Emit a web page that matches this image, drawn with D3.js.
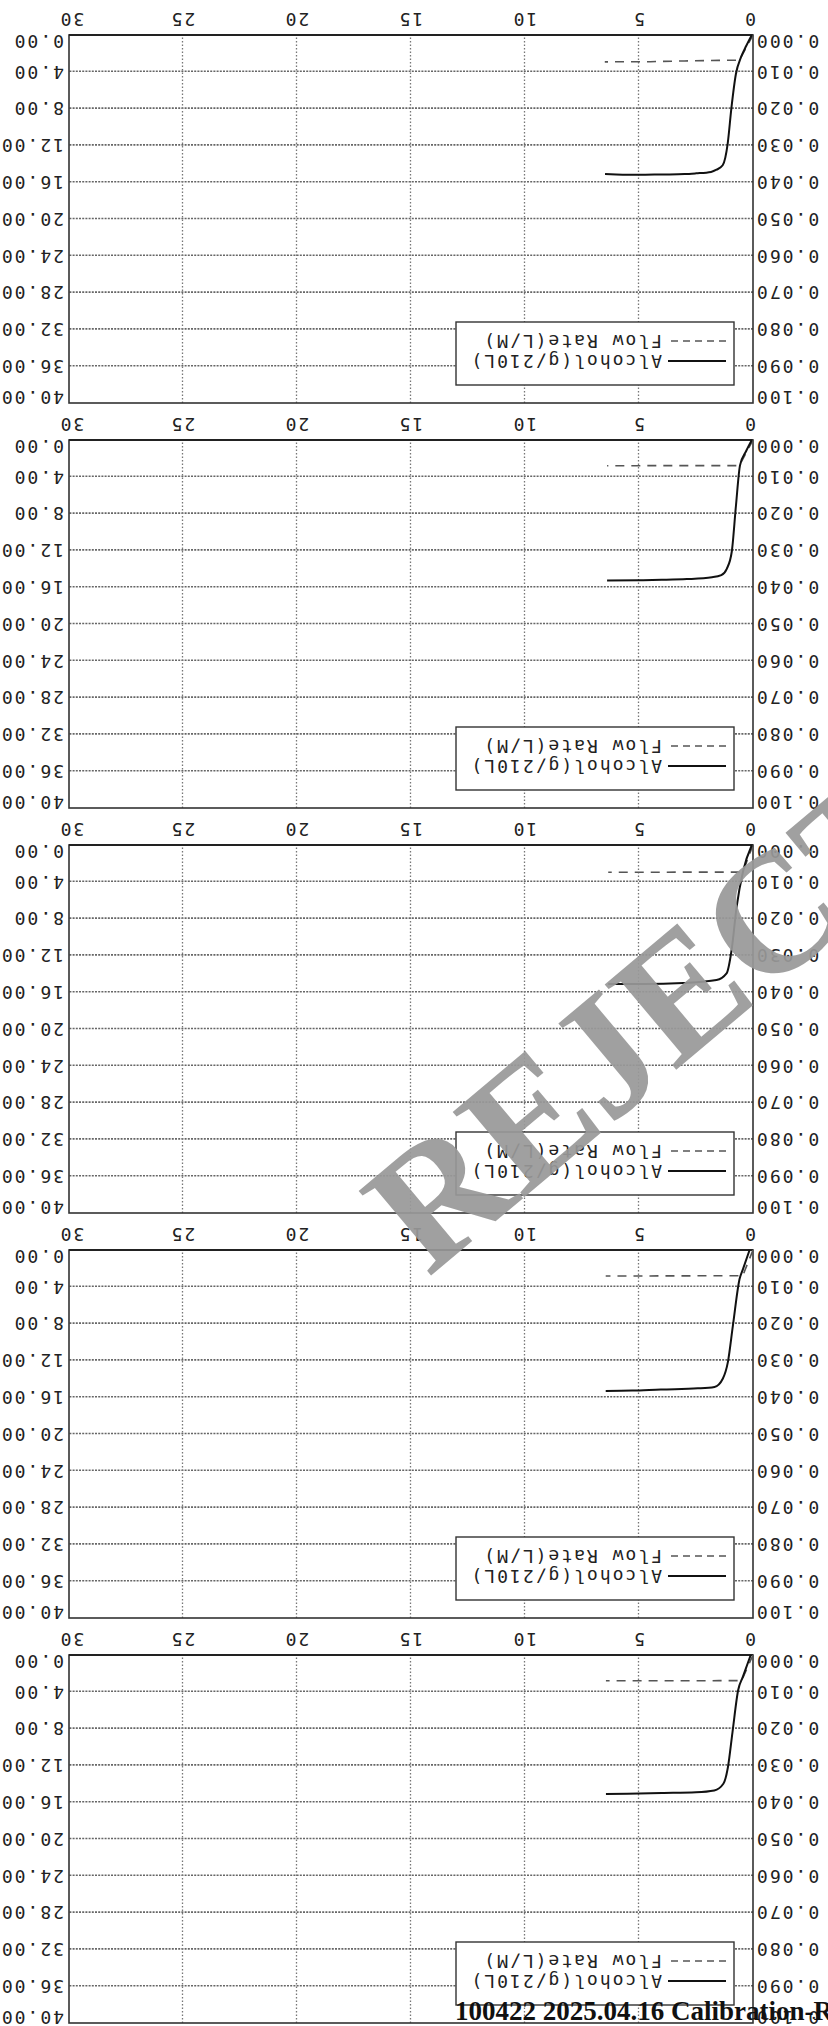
<!DOCTYPE html>
<html>
<head>
<meta charset="utf-8">
<script src="https://cdn.jsdelivr.net/npm/d3@7"></script>
<style>
body { margin: 0; background: #fff; }
svg { display: block; }
.tick text, .legend text { font-family: "DejaVu Sans Mono", monospace; font-size: 18px; letter-spacing: 2px; fill: #222; }
</style>
</head>
<body>
<svg width="828" height="2026"></svg>
<script>
var xTicks = [0, 5, 10, 15, 20, 25, 30];
var alcoholTicks = [0, 0.01, 0.02, 0.03, 0.04, 0.05, 0.06, 0.07, 0.08, 0.09, 0.1];
var flowTicks = [0, 4, 8, 12, 16, 20, 24, 28, 32, 36, 40];
var legendLabels = ["Alcohol(g/210L)", "Flow Rate(L/M)"];

// [seconds, g/210L] -- sheets listed top of the scan first
var alc1 = [[0.05, 0], [0.3, 0.003], [0.53, 0.0061], [0.75, 0.0106], [0.95, 0.02], [1.11, 0.0295], [1.33, 0.0354], [1.6, 0.0366], [1.84, 0.0372], [2.5, 0.0376], [3.0, 0.0378], [4.0, 0.0379], [5.0, 0.038], [6.0, 0.0379], [6.49, 0.0378]];
var alc2 = [[0.05, 0], [0.3, 0.003], [0.57, 0.0069], [0.75, 0.018], [0.93, 0.0303], [1.15, 0.035], [1.39, 0.0367], [1.8, 0.0373], [2.9, 0.0378], [4.0, 0.038], [5.0, 0.0381], [6.4, 0.0382]];
var alc3 = [[0.05, 0], [0.43, 0.007], [0.72, 0.0169], [0.94, 0.0286], [1.16, 0.0349], [1.6, 0.0367], [3.06, 0.0375], [4.8, 0.0378], [6.35, 0.0378]];
var alc4 = [[0.15, 0], [0.44, 0.0052], [0.59, 0.0079], [0.88, 0.0205], [1.1, 0.0304], [1.32, 0.0349], [1.69, 0.0372], [2.42, 0.0376], [4.04, 0.0379], [5.3, 0.0382], [6.46, 0.0383]];
var alc5 = [[0.1, 0], [0.45, 0.006], [0.65, 0.0095], [0.9, 0.021], [1.1, 0.0305], [1.3, 0.035], [1.7, 0.0368], [2.5, 0.0373], [4.0, 0.0375], [5.5, 0.0377], [6.45, 0.0378]];

// [seconds, L/M]
var flow1 = [[0, 0], [0.6, 2.74], [1.5, 2.76], [3.0, 2.82], [4.5, 2.9], [6.5, 2.92]];
var flow2 = [[0, 0], [0.6, 2.78], [1.5, 2.78], [3.0, 2.78], [4.5, 2.79], [6.4, 2.8]];
var flow3 = [[0, 0], [0.45, 2.95], [1.5, 2.95], [3.0, 2.95], [4.5, 2.96], [6.35, 2.96]];
var flow4 = [[0, 0], [0.45, 2.8], [1.5, 2.8], [3.0, 2.81], [4.5, 2.82], [6.46, 2.82]];
var flow5 = [[0, 0], [0.5, 2.78], [1.5, 2.79], [3.0, 2.8], [4.5, 2.8], [6.45, 2.8]];

var sheets = [[alc1, flow1], [alc2, flow2], [alc3, flow3], [alc4, flow4], [alc5, flow5]];

var W = 828, H = 2026;
var plotW = 684, plotH = 368, step = 405;

var svg = d3.select("svg");
// the scan is upside down, so draw the page normally and turn it over
var page = svg.append("g").attr("transform", "rotate(180," + W / 2 + "," + H / 2 + ")");

sheets.forEach(function (s, i) {
    var top = 3 + step * (sheets.length - 1 - i);
    var g = page.append("g").attr("transform", "translate(75," + top + ")");

    var x = d3.scaleLinear().domain([0, 30]).range([0, plotW]);
    var y = d3.scaleLinear().domain([0, 0.1]).range([plotH, 0]);
    var y2 = d3.scaleLinear().domain([0, 40]).range([plotH, 0]);

    // dotted grid
    g.append("g").attr("class", "hgrid")
        .call(d3.axisLeft(y).tickValues(alcoholTicks.slice(1, -1)).tickSize(-plotW).tickFormat(""))
        .call(a => a.select(".domain").remove())
        .selectAll("line").attr("stroke", "#666").attr("stroke-width", 1.6).attr("stroke-dasharray", "2,1.2");
    g.append("g").attr("class", "vgrid")
        .call(d3.axisBottom(x).tickValues(xTicks.slice(1, -1)).tickSize(plotH).tickFormat(""))
        .call(a => a.select(".domain").remove())
        .selectAll("line").attr("stroke", "#777").attr("stroke-width", 1.3).attr("stroke-dasharray", "1.5,2");

    g.append("rect").attr("width", plotW).attr("height", plotH)
        .attr("fill", "none").attr("stroke", "#333").attr("stroke-width", 1.6);
    g.append("line").attr("x1", 0).attr("x2", plotW).attr("y1", plotH).attr("y2", plotH)
        .attr("stroke", "#222").attr("stroke-width", 2.2);

    // tick labels
    var ax = g.append("g").attr("transform", "translate(0," + plotH + ")")
        .call(d3.axisBottom(x).tickValues(xTicks).tickSize(0).tickPadding(9));
    ax.select(".domain").remove();
    ax.selectAll("text").attr("dx", d => d === 0 ? 3 : d === 30 ? -3 : 0);

    var al = g.append("g")
        .call(d3.axisLeft(y).tickValues(alcoholTicks).tickSize(0).tickPadding(2).tickFormat(d3.format(".3f")));
    al.select(".domain").remove();
    al.selectAll("text").attr("y", d => d === 0 ? -6 : d === 0.1 ? 6 : 0);

    var ar = g.append("g").attr("transform", "translate(" + plotW + ",0)")
        .call(d3.axisRight(y2).tickValues(flowTicks).tickSize(0).tickPadding(5).tickFormat(d3.format(".2f")));
    ar.select(".domain").remove();
    ar.selectAll("text").attr("y", d => d === 0 ? -6 : d === 40 ? 6 : 0);

    // series
    var alcLine = d3.line().x(d => x(d[0])).y(d => y(d[1])).curve(d3.curveMonotoneX);
    var flowLine = d3.line().x(d => x(d[0])).y(d => y2(d[1]));

    g.append("path").attr("d", flowLine(s[1])).attr("fill", "none")
        .attr("stroke", "#555").attr("stroke-width", 1.6).attr("stroke-dasharray", "9,7");
    g.append("path").attr("d", alcLine(s[0])).attr("fill", "none")
        .attr("stroke", "#111").attr("stroke-width", 2);

    // legend
    var lg = g.append("g").attr("class", "legend").attr("transform", "translate(19,18)");
    lg.append("rect").attr("width", 278).attr("height", 63)
        .attr("fill", "#fff").attr("stroke", "#333").attr("stroke-width", 1.4);
    legendLabels.forEach(function (t, k) {
        var ry = 24 + k * 20;
        lg.append("line").attr("x1", 8).attr("x2", 66).attr("y1", ry).attr("y2", ry)
            .attr("stroke", k === 0 ? "#111" : "#555").attr("stroke-width", k === 0 ? 2 : 1.5)
            .attr("stroke-dasharray", k === 0 ? null : "7,5");
        lg.append("text").attr("x", 72).attr("y", ry).attr("dy", "0.35em").text(t);
    });
});

// stamp over the scan
svg.append("text")
    .attr("transform", "translate(428,1278) rotate(-40)")
    .attr("font-family", "Liberation Serif, serif").attr("font-weight", "bold")
    .attr("font-size", 170).attr("fill", "#999").attr("opacity", 0.92)
    .text("REJECTED");

svg.append("text")
    .attr("x", 455).attr("y", 2020)
    .attr("font-family", "Liberation Serif, serif").attr("font-weight", "bold")
    .attr("font-size", 27).attr("fill", "#111")
    .text("100422 2025.04.16 Calibration-R");
</script>
</body>
</html>
